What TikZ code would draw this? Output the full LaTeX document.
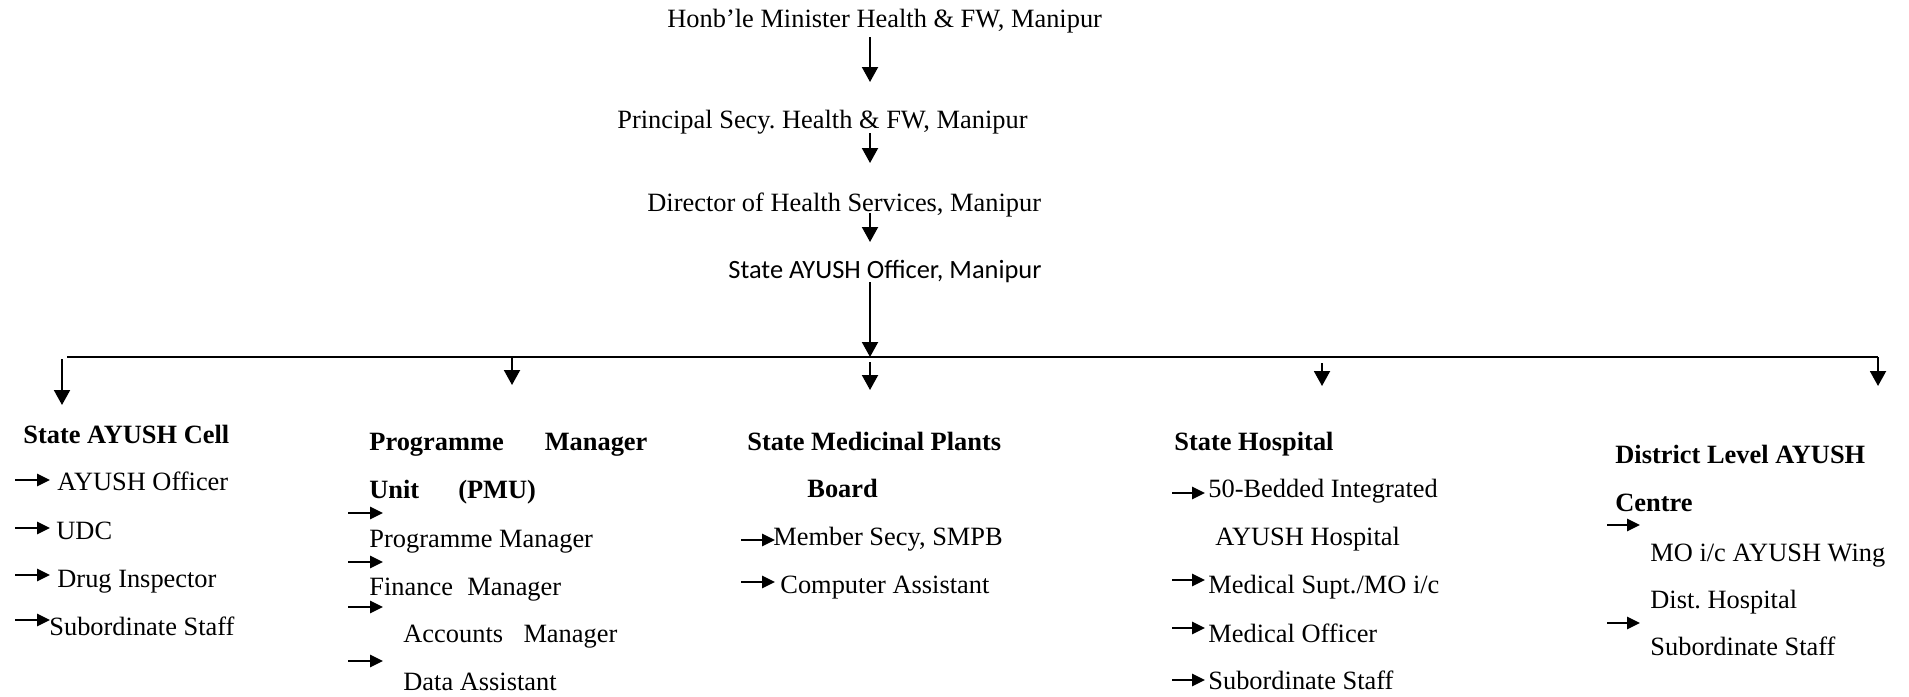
\documentclass[tikz,border=0pt]{standalone}
\usepackage{fontspec}
\setmainfont{Liberation Serif}
\newfontfamily\calfont{Carlito}
\usetikzlibrary{arrows.meta}
\tikzset{
  txt/.style={anchor=base west, inner sep=0pt, font=\fontsize{13.2}{16}\selectfont},
  head/.style={anchor=base west, inner sep=0pt, font=\fontsize{13.2}{16}\selectfont\bfseries},
  varr/.style={line width=1pt, -{Triangle[length=7.5pt,width=8pt]}},
  barr/.style={line width=1.3pt, -{Triangle[length=6.5pt,width=6pt]}},
  bus/.style={line width=1.3pt},
}
\begin{document}
\frenchspacing
\begin{tikzpicture}[x=0.5pt,y=-0.5pt]
\useasboundingbox (0,0) rectangle (1909,696);
% top chain
\node[txt] (n1) at (667,27) {Honb’le Minister Health \& FW, Manipur};
\node[txt] (n2) at (617,128) {Principal Secy. Health \& FW, Manipur};
\node[txt] (n3) at (647,211) {Director of Health Services, Manipur};
\node[txt, font=\fontsize{13.2}{16}\selectfont\calfont] (n4) at (728,278) {State AYUSH Officer, Manipur};
\coordinate (sp) at (870,0);
\coordinate (busL) at (67,357);
\coordinate (busM) at (870,357);
\coordinate (busR) at (1878,357);
\draw[varr, shorten <=5pt, shorten >=23pt] (n1.base -| sp) -- (n2.base -| sp);
\draw[varr, shorten <=2.5pt, shorten >=24pt] (n2.base -| sp) -- (n3.base -| sp);
\draw[varr, shorten <=1pt, shorten >=18pt] (n3.base -| sp) -- (n4.base -| sp);
\draw[varr, shorten <=2pt] (n4.base -| sp) -- (busM);
\draw[bus] (busL) -- (busR);

% column headings
\node[head] (h1) at (23,443) {State AYUSH Cell};
\node[head] (h2) at (369,450) {Programme\hspace{20.5pt}Manager};
\node[head] (h2b) at (369,498) {Unit\hspace{19.5pt}(PMU)};
\node[head] (h3) at (747,450) {State Medicinal Plants};
\node[head] (h3b) at (807,497) {Board};
\node[head] (h4) at (1174,450) {State Hospital};
\node[head] (h5) at (1615,463) {District Level AYUSH};
\node[head] (h5b) at (1615,511) {Centre};

\coordinate (b1) at (62,359);
\coordinate (b2) at (512,357);
\coordinate (b3) at (870,362);
\coordinate (b4) at (1322,363);
\draw[varr, shorten >=19pt] (b1) -- (b1 |- h1.base);
\draw[varr, shorten >=32.5pt] (b2) -- (b2 |- h2.base);
\draw[varr, shorten >=30pt] (b3) -- (b3 |- h3.base);
\draw[varr, shorten >=32pt] (b4) -- (b4 |- h4.base);
\draw[varr, shorten >=38.5pt] (busR) -- (busR |- h5.base);

% column 1
\node[txt] (c11) at (57,490) {AYUSH Officer};
\node[txt] (c12) at (56,539) {UDC};
\node[txt] (c13) at (57,587) {Drug Inspector};
\node[txt] (c14) at (49,635) {Subordinate Staff};
\draw[barr] (15,480) -- (50,480);
\draw[barr] (15,528) -- (50,528);
\draw[barr] (15,575) -- (50,575);
\draw[barr] (15,620) -- (50,620);

% column 2
\node[txt] (c21) at (369,547) {Programme Manager};
\node[txt] (c22) at (369,595) {Finance\hspace{7.2pt}Manager};
\node[txt] (c23) at (403,642) {Accounts\hspace{10.2pt}Manager};
\node[txt] (c24) at (403,690) {Data Assistant};
\draw[barr] (348,513) -- (383,513);
\draw[barr] (348,562) -- (383,562);
\draw[barr] (348,607) -- (383,607);
\draw[barr] (348,661) -- (383,661);

% column 3
\node[txt] (c31) at (773,545) {Member Secy, SMPB};
\node[txt] (c32) at (780,593) {Computer Assistant};
\draw[barr] (741,540) -- (775,540);
\draw[barr] (741,582) -- (775,582);

% column 4
\node[txt] (c41) at (1208,497) {50-Bedded Integrated};
\node[txt] (c41b) at (1215,545) {AYUSH Hospital};
\node[txt] (c42) at (1208,593) {Medical Supt./MO i/c};
\node[txt] (c43) at (1208,642) {Medical Officer};
\node[txt] (c44) at (1208,689) {Subordinate Staff};
\draw[barr] (1172,493) -- (1205,493);
\draw[barr] (1172,580) -- (1205,580);
\draw[barr] (1172,628) -- (1205,628);
\draw[barr] (1172,680) -- (1205,680);

% column 5
\node[txt] (c51) at (1650,561) {MO i/c AYUSH Wing};
\node[txt] (c51b) at (1650,608) {Dist. Hospital};
\node[txt] (c52) at (1650,655) {Subordinate Staff};
\draw[barr] (1607,525) -- (1640,525);
\draw[barr] (1607,623) -- (1640,623);
\end{tikzpicture}
\end{document}
